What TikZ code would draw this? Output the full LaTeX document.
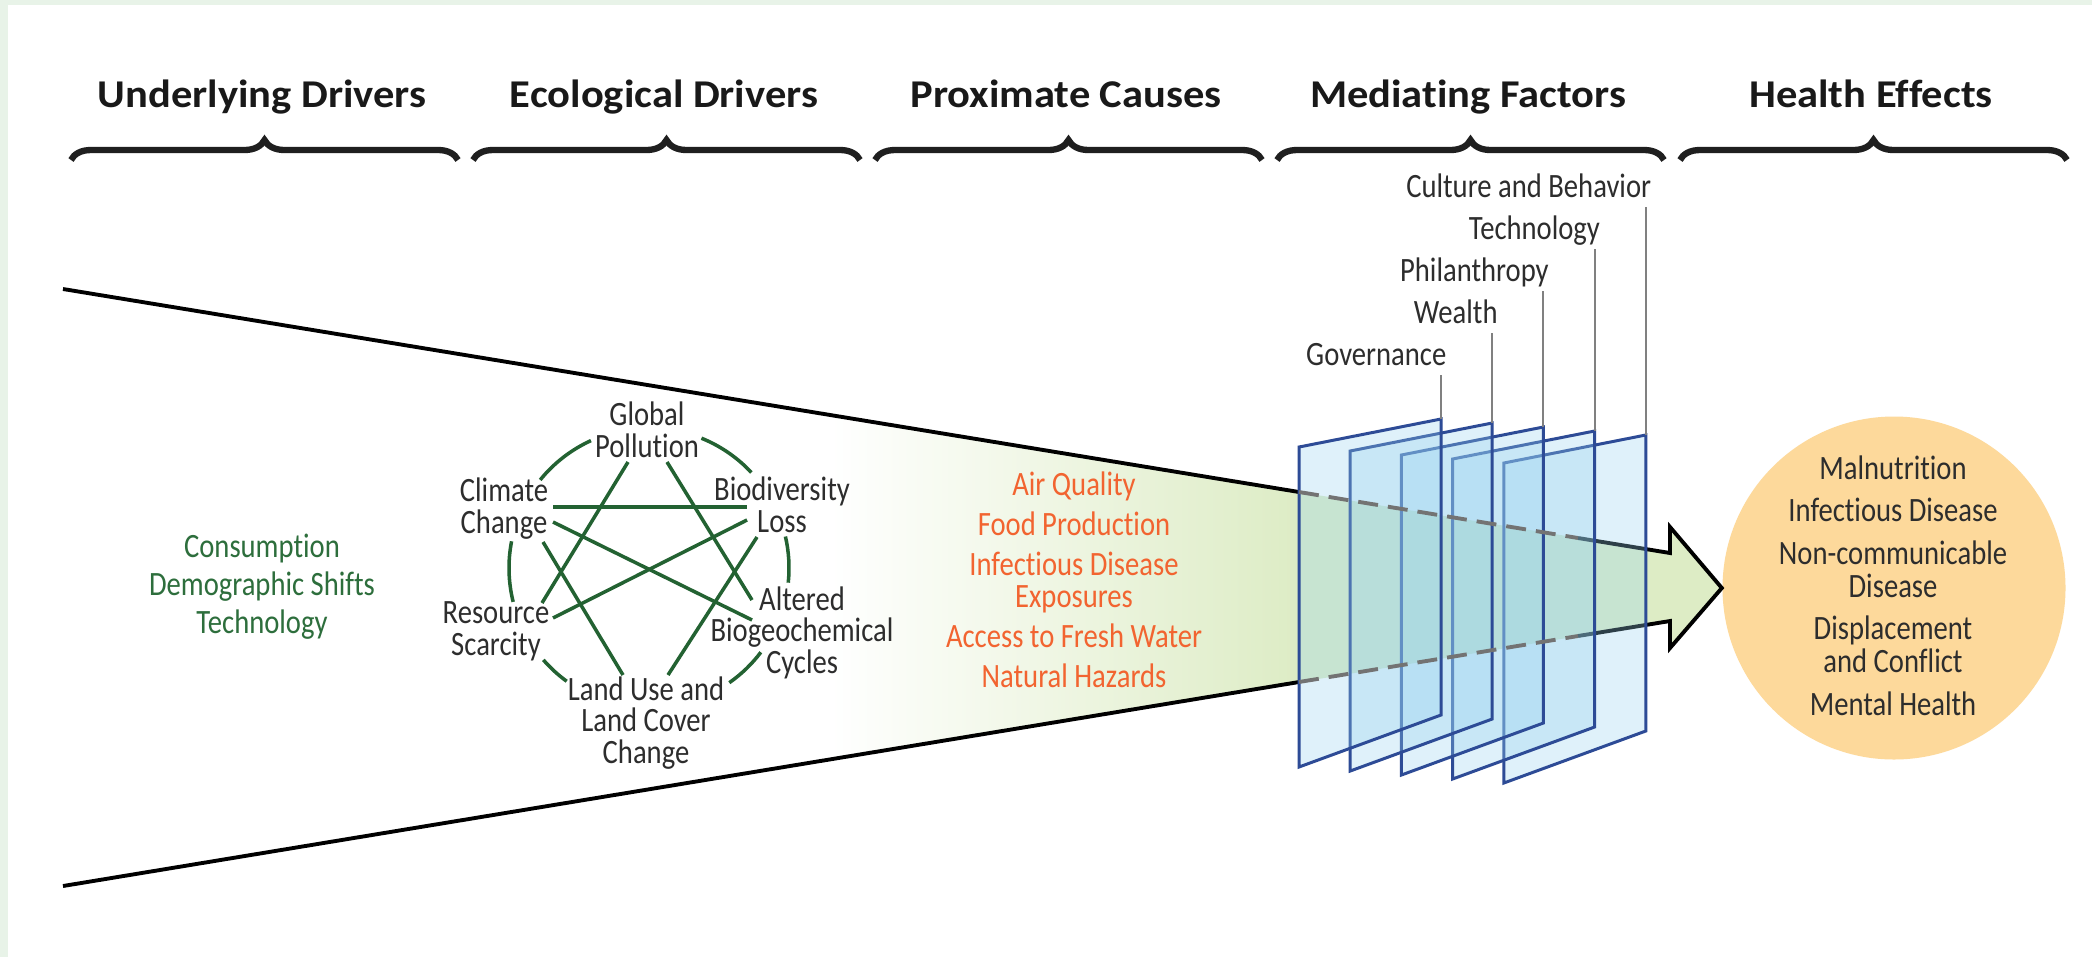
\documentclass[tikz,border=0pt]{standalone}
\usepackage{fontspec}
\setmainfont{Carlito}[FakeStretch=0.84, Ligatures=NoCommon]
\newfontfamily\headfont{Carlito}[FakeStretch=1.08, Ligatures=NoCommon]
\usetikzlibrary{calc,decorations.pathreplacing}

\definecolor{framegreen}{RGB}{232,243,232}
\definecolor{ecogreen}{RGB}{35,98,50}
\definecolor{drivgreen}{RGB}{45,110,60}
\definecolor{causeorange}{RGB}{242,100,48}
\definecolor{funnelgreen}{RGB}{221,236,197}
\definecolor{panelblue}{RGB}{150,210,240}
\definecolor{paneledge}{RGB}{45,75,150}
\definecolor{effectorange}{RGB}{253,217,155}
\definecolor{textgray}{RGB}{45,45,45}

\begin{document}
\begin{tikzpicture}[x=0.1mm,y=-0.1mm]
  \tikzset{
    heading/.style={anchor=base, inner sep=0pt, text=black!90,
      font=\headfont\bfseries\fontsize{11.2}{13}\selectfont},
    headbrace/.style={decorate, decoration={brace, amplitude=2mm}, line width=1.8pt, black!88},
    txt/.style={anchor=base, inner sep=0pt, align=center, text=textgray,
      font=\fontsize{9.7}{8.9}\selectfont},
    ring/.style={ecogreen, line width=1pt},
    tie/.style={ecogreen, line width=1pt},
    funnel/.style={line width=1.1pt, line join=miter},
    dashedline/.style={black!55, line width=1.1pt, dash pattern=on 2mm off 1mm},
    panel/.style={draw=paneledge, line width=0.85pt, fill=panelblue, fill opacity=0.3},
    leader/.style={black!50, line width=0.6pt}
  }
  % frame
  \fill[framegreen] (0,0) rectangle (2092,957);
  \fill[white] (8,5) rectangle (2092,957);
  \useasboundingbox (0,0) rectangle (2092,957);

  % headings
  \node[heading] (hUnder) at (262,107) {Underlying Drivers};
  \node[heading] (hEco) at (664,107) {Ecological Drivers};
  \node[heading] (hProx) at (1066,107) {Proximate Causes};
  \node[heading] (hMed) at (1468,107) {Mediating Factors};
  \node[heading] (hHealth) at (1871,107) {Health Effects};
  \foreach \h in {hUnder,hEco,hProx,hMed,hHealth}
    \draw[headbrace] ($(\h.base)+(-191,53)$) -- ($(\h.base)+(196,53)$);

  % funnel
  \node[circle, fill=effectorange, minimum size=34.3mm, inner sep=0pt] (health) at (1894,588) {};
  \coordinate (ftop) at (63,289);
  \coordinate (fbot) at (63,886);
  \coordinate (ptop) at (1299,492);
  \coordinate (pbot) at (1299,682);
  \coordinate (dtop) at (1578,538);
  \coordinate (dbot) at (1578,636);
  \coordinate (ntop) at (1670,553);
  \coordinate (nbot) at (1670,621);
  \coordinate (htop) at (1670,527);
  \coordinate (hbot) at (1670,648);
  \begin{scope}
    \clip (ftop) -- (ntop) -- (htop) -- (health.west) -- (hbot) -- (nbot) -- (fbot) -- cycle;
    \shade[left color=white, right color=funnelgreen] (830,250) rectangle (1299,900);
    \fill[funnelgreen] (1299,250) rectangle (1730,900);
  \end{scope}
  \draw[funnel] (ptop) -- (ftop);
  \draw[funnel] (pbot) -- (fbot);
  \draw[funnel] (dtop) -- (ntop) -- (htop) -- (health.west) -- (hbot) -- (nbot) -- (dbot);

  % mediating panels
  \foreach \i in {4,3,2,1,0}
    \draw[panel] ({1299+51.2*\i},{447+4*\i}) -- ++(142,-28) coordinate (mtr\i)
      -- ++(0,296) -- ++(-142,52) -- cycle;
  \draw[dashedline] (ptop) -- (dtop);
  \draw[dashedline] (pbot) -- (dbot);
  \foreach \lab [count=\i from 0] in {Governance,Wealth,Philanthropy,Technology,Culture and Behavior}{
    \node[txt, anchor=base east] (med\i) at ($(mtr\i)+(6,{-54-46*\i})$) {\lab};
    \draw[leader] ($(med\i.base east)+(-6,10)$) -- (mtr\i);
  }

  % underlying drivers
  \node[txt, text=drivgreen, font=\fontsize{9.7}{10.8}\selectfont] (under) at (262,633)
    {Consumption\\Demographic Shifts\\Technology};

  % ecological drivers
  \coordinate (hub) at (649,568);
  \node[txt] (poll) at (647,457) {Global\\Pollution};
  \node[txt] (bio) at (782,532) {Biodiversity\\Loss};
  \node[txt] (alt) at (802,673) {Altered\\Biogeochemical\\Cycles};
  \node[txt] (land) at (646,763) {Land Use and\\Land Cover\\Change};
  \node[txt] (res) at (496,655) {Resource\\Scarcity};
  \node[txt] (clim) at (504,533) {Climate\\Change};
  \foreach \a/\b in {-114.5/-141,-43/-68,6/-13,55/37,126/139,-169/-194}
    \draw[ring] ($(hub)+(\a:140)$) arc[start angle=\a, end angle=\b, radius=140];
  \draw[tie] ($(clim.base)+(49,-26)$) -- ($(bio.base)+(-35,-25)$);
  \draw[tie] ($(poll.base)+(-19,5)$) -- ($(res.base)+(46,-52)$);
  \draw[tie] ($(poll.base)+(20,5)$) -- ($(alt.base)+(-50,-73)$);
  \draw[tie] ($(clim.base)+(49,-11)$) -- ($(alt.base)+(-50,-53)$);
  \draw[tie] ($(bio.base)+(-35,-12)$) -- ($(res.base)+(57,-37)$);
  \draw[tie] ($(clim.base)+(39,9)$) -- ($(land.base)+(-23,-88)$);
  \draw[tie] ($(bio.base)+(-25,5)$) -- ($(land.base)+(22,-88)$);

  % proximate causes
  \node[txt, text=causeorange, font=\fontsize{9.7}{9.2}\selectfont] (prox) at (1074,687)
    {Air Quality\\[2.1pt]Food Production\\[2.1pt]Infectious Disease\\Exposures\\[2.1pt]Access to Fresh Water\\[2.1pt]Natural Hazards};

  % health effects
  \node[txt, font=\fontsize{9.7}{9.25}\selectfont] (effects) at (1893,715)
    {Malnutrition\\[2.9pt]Infectious Disease\\[2.9pt]Non-communicable\\Disease\\[2.9pt]Displacement\\and Conflict\\[2.9pt]Mental Health};
\end{tikzpicture}
\end{document}
